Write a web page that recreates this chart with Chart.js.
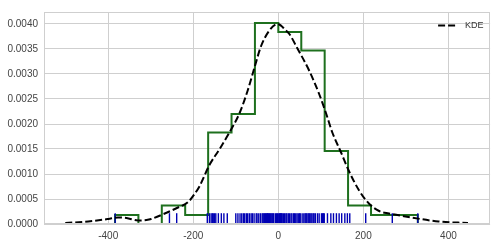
<!DOCTYPE html>
<html lang="en">
<head>
  <meta charset="UTF-8">
  <title>Histogram with KDE and rug</title>
  <script src="https://cdn.jsdelivr.net/npm/chart.js@4"></script>
  <style>
    * { margin: 0; padding: 0; box-sizing: border-box; }
    body { background: #fff; width: 497px; height: 246px; overflow: hidden; }
  </style>
</head>
<body>
  <canvas id="chart" width="497" height="246"></canvas>
  <script>
    // histogram (density, step outline), 13 bins
    const histEdges = [-384, -329, -274, -219, -165, -110, -55, 0, 54, 109, 164, 218, 273, 328]
    const histDensity = [0.00018, 0, 0.00037, 0.00018, 0.00183, 0.0022, 0.00402, 0.00384, 0.00347, 0.00146, 0.00037, 0.00018, 0.00018]

    // KDE curve
    const kdeX = [-501, -447, -400, -377, -357, -330, -310, -299, -267, -236, -212, -197, -185, -162, -138, -115, -91, -72, -56, -41, -21, -2, 18, 26, 45, 73, 96, 112, 127, 147, 166, 190, 213, 237, 260, 299, 377, 446]
    const kdeY = [0.00002, 0.00005, 0.0001, 0.00013, 0.00012, 0.00007, 0.00008, 0.0001, 0.00021, 0.00033, 0.00044, 0.0006, 0.00076, 0.00118, 0.0015, 0.00183, 0.00222, 0.00267, 0.00313, 0.00355, 0.00387, 0.004, 0.00387, 0.0038, 0.00351, 0.00306, 0.0026, 0.00222, 0.00183, 0.00144, 0.00106, 0.00067, 0.00041, 0.00026, 0.00021, 0.00015, 0.00005, 0.00002]

    // rug: one tick per observation
    const rugValues = [
      -383.6,
      -256, -239,
      -167,
      -162, -158, -155, -153, -150, -147, -141, -134, -128, -120,
      -100, -95, -90, -86, -82, -79, -75, -72, -68, -64, -61, -57,
      -52, -50, -46, -42, -38, -36, -34, -32, -30, -28, -26, -25, -23, -21, -19, -17, -15, -13, -11, -7, -4, -2,
      1, 3, 4.7, 6, 7.7, 9, 12, 15, 18, 20, 23.4, 26, 29.7, 32, 35.9, 38, 41, 44, 46.9, 50, 51.5,
      56, 60, 63, 65, 67, 70, 72, 74, 76.6, 79, 82, 84, 87, 92, 96, 101.5, 104, 106, 108,
      115.6, 123.5, 129.7, 136.6, 143, 149, 156.4, 162.4,
      168, 205.5,
      268,
      328
    ]

    const xTicks = [-400, -200, 0, 200, 400]
    const yTicks = [0, 0.0005, 0.001, 0.0015, 0.002, 0.0025, 0.003, 0.0035, 0.004]
    const xRange = [-551, 498]
    const yRange = [0, 0.00424]

    const histPoints = [{ x: histEdges[0], y: 0 }]
    histDensity.forEach((d, i) => histPoints.push({ x: histEdges[i], y: d }))
    histPoints.push({ x: histEdges[histEdges.length - 1], y: 0 })

    const kdePoints = kdeX.map((x, i) => ({ x, y: kdeY[i] }))
    const rugMid = yRange[1] * 0.025
    const rugPoints = rugValues.map(x => ({ x, y: rugMid }))

    const font = { family: "'Liberation Sans', Arial, sans-serif", size: 10 }

    // axes frame + legend drawn in the upper-right corner of the plot
    const frame = {
      id: 'frame',
      afterDraw(chart) {
        const { ctx, chartArea: a } = chart
        ctx.save()
        ctx.strokeStyle = '#cfcfcf'
        ctx.lineWidth = 1
        ctx.strokeRect(Math.round(a.left) + 0.5, Math.round(a.top) + 0.5, Math.round(a.right - a.left) - 1, Math.round(a.bottom - a.top) - 1)

        const ds = chart.data.datasets[0]
        const y = a.top + 13.5
        const x0 = a.right - 52
        ctx.strokeStyle = ds.borderColor
        ctx.lineWidth = ds.borderWidth
        ctx.setLineDash(ds.borderDash)
        ctx.beginPath()
        ctx.moveTo(x0, y)
        ctx.lineTo(x0 + 18, y)
        ctx.stroke()
        ctx.setLineDash([])
        ctx.fillStyle = '#333'
        ctx.font = `9px ${font.family}`
        ctx.textBaseline = 'middle'
        ctx.fillText(ds.label, x0 + 27, y)
        ctx.restore()
      }
    }

    new Chart(document.getElementById('chart'), {
      type: 'line',
      data: {
        datasets: [
          {
            label: 'KDE', data: kdePoints, order: 0,
            borderColor: '#000', backgroundColor: 'transparent', borderWidth: 2,
            borderDash: [7, 3], pointRadius: 0, cubicInterpolationMode: 'monotone'
          },
          {
            label: 'rug', data: rugPoints, order: 1, showLine: false,
            pointStyle: 'line', rotation: 90, pointRadius: 5.5,
            pointBorderColor: '#0000b4', pointBorderWidth: 1.4
          },
          {
            label: 'hist', data: histPoints, order: 2,
            borderColor: '#1e701e', backgroundColor: 'transparent', borderWidth: 2,
            stepped: 'before', pointRadius: 0
          }
        ]
      },
      options: {
        responsive: false,
        animation: false,
        devicePixelRatio: 1,
        layout: { padding: { top: 6, right: 6, left: 0, bottom: 0 } },
        plugins: {
          tooltip: { enabled: false },
          legend: { display: false }
        },
        scales: {
          x: {
            type: 'linear', min: xRange[0], max: xRange[1],
            afterBuildTicks: s => { s.ticks = xTicks.map(value => ({ value })) },
            afterFit: s => { s.height = 22 },
            grid: { color: '#cfcfcf', drawTicks: false },
            border: { display: false },
            ticks: { color: '#444', font, padding: 6, maxRotation: 0, callback: v => String(v) }
          },
          y: {
            type: 'linear', min: yRange[0], max: yRange[1],
            afterBuildTicks: s => { s.ticks = yTicks.map(value => ({ value })) },
            afterFit: s => { s.width = 44 },
            grid: { color: '#cfcfcf', drawTicks: false },
            border: { display: false },
            ticks: { color: '#444', font, padding: 6, callback: v => v.toFixed(4) }
          }
        }
      },
      plugins: [frame]
    })
  </script>
</body>
</html>
